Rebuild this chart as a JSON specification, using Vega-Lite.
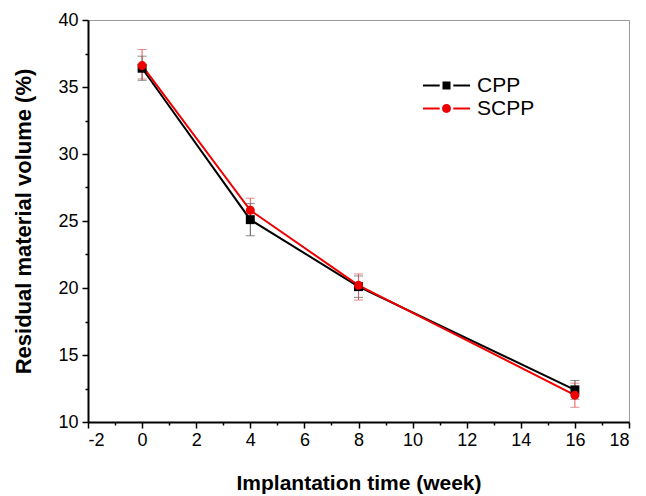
{
  "$schema": "https://vega.github.io/schema/vega-lite/v6.json",
  "width": 541,
  "height": 402,
  "autosize": {"type": "none"},
  "padding": {"left": 88, "top": 20, "right": 17, "bottom": 74},
  "background": "white",
  "config": {
    "font": "Liberation Sans",
    "view": {"stroke": "#9a9a9a", "strokeWidth": 1},
    "axis": {
      "labelFont": "Liberation Sans",
      "titleFont": "Liberation Sans",
      "labelFontSize": 18,
      "titleFontSize": 21,
      "titleFontWeight": "bold",
      "labelColor": "black",
      "titleColor": "black",
      "domainColor": "black",
      "domainWidth": 2,
      "tickColor": "black",
      "tickWidth": 1.5,
      "grid": false
    }
  },
  "data": {
    "values": [
      {"series": "CPP", "week": 0, "mean": 36.4, "lo": 35.5, "hi": 37.3},
      {"series": "CPP", "week": 4, "mean": 25.1, "lo": 23.9, "hi": 26.3},
      {"series": "CPP", "week": 8, "mean": 20.1, "lo": 19.3, "hi": 20.9},
      {"series": "CPP", "week": 16, "mean": 12.4, "lo": 11.7, "hi": 13.1},
      {"series": "SCPP", "week": 0, "mean": 36.6, "lo": 35.6, "hi": 37.8},
      {"series": "SCPP", "week": 4, "mean": 25.8, "lo": 24.9, "hi": 26.7},
      {"series": "SCPP", "week": 8, "mean": 20.2, "lo": 19.1, "hi": 21.05},
      {"series": "SCPP", "week": 16, "mean": 12.0, "lo": 11.1, "hi": 12.9}
    ]
  },
  "resolve": {
    "scale": {"color": "independent", "shape": "independent", "size": "independent"},
    "legend": {"color": "independent", "shape": "independent"},
    "axis": {"x": "independent", "y": "independent"}
  },
  "layer": [
    {
      "mark": {"type": "errorbar", "ticks": {"size": 9, "thickness": 1}, "rule": {"strokeWidth": 1}},
      "encoding": {
        "x": {"field": "week", "type": "quantitative", "scale": {"domain": [-2, 18], "nice": false, "zero": false},
          "axis": {"orient": "bottom", "values": [-1, 1, 3, 5, 7, 9, 11, 13, 15, 17], "labels": false, "domain": false, "tickSize": 3, "title": null}},
        "y": {"field": "lo", "type": "quantitative", "scale": {"domain": [10, 40], "nice": false, "zero": false},
          "axis": {"orient": "left", "values": [12.5, 17.5, 22.5, 27.5, 32.5, 37.5], "labels": false, "domain": false, "tickSize": 3, "title": null}},
        "y2": {"field": "hi"},
        "color": {"field": "series", "type": "nominal", "scale": {"domain": ["CPP", "SCPP"], "range": ["#555555", "#e05a5a"]}, "legend": null}
      }
    },
    {
      "mark": {"type": "line", "strokeWidth": 2},
      "encoding": {
        "x": {"field": "week", "type": "quantitative", "scale": {"domain": [-2, 18], "nice": false, "zero": false},
          "axis": {"orient": "bottom", "values": [-2, 0, 2, 4, 6, 8, 10, 12, 14, 16, 18], "labelExpr": "'' + datum.value", "tickSize": 6, "labelPadding": 3, "title": "Implantation time (week)", "titlePadding": 23}},
        "y": {"field": "mean", "type": "quantitative", "scale": {"domain": [10, 40], "nice": false, "zero": false},
          "axis": {"orient": "left", "values": [10, 15, 20, 25, 30, 35, 40], "tickSize": 6, "labelPadding": 4, "title": "Residual material volume (%)", "titleFontSize": 22, "titlePadding": 22}},
        "color": {"field": "series", "type": "nominal", "scale": {"domain": ["CPP", "SCPP"], "range": ["#000000", "#ee0000"]}, "legend": null}
      }
    },
    {
      "mark": {"type": "point", "filled": true, "opacity": 1, "size": 80, "strokeWidth": 0},
      "encoding": {
        "x": {"field": "week", "type": "quantitative", "scale": {"domain": [-2, 18], "nice": false, "zero": false}, "axis": null},
        "y": {"field": "mean", "type": "quantitative", "scale": {"domain": [10, 40], "nice": false, "zero": false}, "axis": null},
        "color": {"field": "series", "type": "nominal", "scale": {"domain": ["CPP", "SCPP"], "range": ["#000000", "#ee0000"]}, "legend": null},
        "shape": {"field": "series", "type": "nominal", "scale": {"domain": ["CPP", "SCPP"], "range": ["square", "circle"]}, "legend": null}
      }
    },
    {
      "mark": {"type": "point", "filled": true, "opacity": 0, "size": 256, "strokeWidth": 0},
      "encoding": {
        "x": {"field": "week", "type": "quantitative", "scale": {"domain": [-2, 18], "nice": false, "zero": false}, "axis": null},
        "y": {"field": "mean", "type": "quantitative", "scale": {"domain": [10, 40], "nice": false, "zero": false}, "axis": null},
        "color": {"field": "series", "type": "nominal", "scale": {"domain": ["CPP", "SCPP"], "range": ["#000000", "#ee0000"]},
          "legend": {
            "title": null, "orient": "none", "legendX": 348, "legendY": 55, "padding": 0,
            "symbolSize": 256, "symbolOpacity": 1, "symbolStrokeWidth": 0,
            "labelFontSize": 21, "labelFont": "Liberation Sans", "labelColor": "black", "labelOffset": 20, "rowPadding": 1
          }},
        "shape": {"field": "series", "type": "nominal",
          "scale": {"domain": ["CPP", "SCPP"], "range": [
            "M-2.94,-0.125H-0.85V0.125H-2.94Z M0.85,-0.125H2.94V0.125H0.85Z M-0.5,-0.5H0.5V0.5H-0.5Z",
            "M-2.94,-0.125H-0.85V0.125H-2.94Z M0.85,-0.125H2.94V0.125H0.85Z M0.56,0A0.56,0.56 0 1,1 -0.56,0A0.56,0.56 0 1,1 0.56,0Z"
          ]},
          "legend": {
            "title": null, "orient": "none", "legendX": 348, "legendY": 55, "padding": 0,
            "symbolSize": 256, "symbolOpacity": 1, "symbolStrokeWidth": 0,
            "labelFontSize": 21, "labelFont": "Liberation Sans", "labelColor": "black", "labelOffset": 20, "rowPadding": 1
          }}
      }
    }
  ]
}
